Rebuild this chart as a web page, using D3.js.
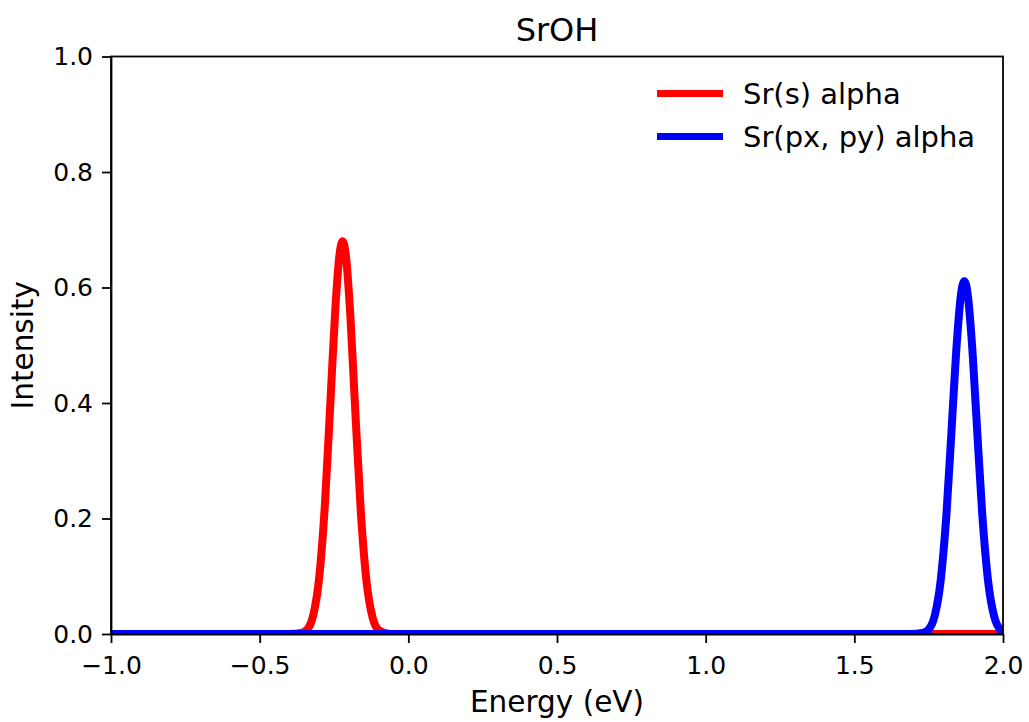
<!DOCTYPE html>
<html>
<head>
<meta charset="utf-8">
<style>
    body { margin: 0; background: #fff; }
    svg text { font-family: "DejaVu Sans", sans-serif; fill: #000; }
    .axis path, .axis line { stroke: #000; stroke-width: 1.8px; }
    .line { fill: none; stroke-width: 8px; stroke-linejoin: round; }
</style>
</head>
<body>
<div id="chart"></div>
<script src="https://cdn.jsdelivr.net/npm/d3@7"></script>
<script>
    // values
    const sEnergy = [-1.0, -0.40, -0.36, -0.34, -0.32, -0.30, -0.28, -0.26, -0.245, -0.23, -0.221,
                     -0.21, -0.195, -0.18, -0.16, -0.14, -0.12, -0.10, -0.06, 2.0];
    const sIntensity = [0, 0, 0.002, 0.008, 0.032, 0.097, 0.229, 0.423, 0.568, 0.663, 0.680,
                        0.655, 0.551, 0.402, 0.213, 0.088, 0.028, 0.007, 0, 0];

    const pEnergy = [-1.0, 1.69, 1.73, 1.75, 1.77, 1.79, 1.81, 1.83, 1.845, 1.86, 1.870,
                     1.88, 1.895, 1.91, 1.93, 1.95, 1.97, 1.99, 2.0];
    const pIntensity = [0, 0, 0.002, 0.008, 0.031, 0.091, 0.209, 0.380, 0.507, 0.593, 0.611,
                        0.593, 0.507, 0.380, 0.209, 0.091, 0.031, 0.008, 0.004];

    const seriesNames = ["Sr(s) alpha", "Sr(px, py) alpha"];
    const seriesColors = ["#ff0000", "#0000ff"];
    const xTicks = [-1.0, -0.5, 0.0, 0.5, 1.0, 1.5, 2.0];
    const yTicks = [0.0, 0.2, 0.4, 0.6, 0.8, 1.0];

    const W = 1029, H = 722;
    const margin = { top: 56.5, right: 26, bottom: 88, left: 111 };
    const width = W - margin.left - margin.right;
    const height = H - margin.top - margin.bottom;

    const svg = d3.select("#chart").append("svg")
        .attr("width", W).attr("height", H);

    const g = svg.append("g")
        .attr("transform", "translate(" + margin.left + "," + margin.top + ")");

    const x = d3.scaleLinear().domain([-1, 2]).range([0, width]);
    const y = d3.scaleLinear().domain([0, 1]).range([height, 0]);

    svg.append("defs").append("clipPath").attr("id", "clip")
        .append("rect").attr("width", width).attr("height", height);

    const series = [
        { name: seriesNames[0], color: seriesColors[0], values: sEnergy.map((e, i) => [e, sIntensity[i]]) },
        { name: seriesNames[1], color: seriesColors[1], values: pEnergy.map((e, i) => [e, pIntensity[i]]) }
    ];

    const line = d3.line()
        .curve(d3.curveMonotoneX)
        .x(d => x(d[0]))
        .y(d => y(d[1]));

    g.append("g").attr("clip-path", "url(#clip)")
        .selectAll(".line")
        .data(series)
        .enter().append("path")
        .attr("class", "line")
        .attr("d", d => line(d.values))
        .style("stroke", d => d.color);

    // axes
    const fmt = d3.format(".1f");
    const minus = v => fmt(v).replace("-", "\u2212");

    const xAxis = g.append("g")
        .attr("class", "axis")
        .attr("transform", "translate(0," + height + ")")
        .call(d3.axisBottom(x).tickValues(xTicks).tickFormat(minus).tickSize(9).tickPadding(13).tickSizeOuter(0));
    xAxis.selectAll("text").style("font-size", "25px");

    const yAxis = g.append("g")
        .attr("class", "axis")
        .call(d3.axisLeft(y).tickValues(yTicks).tickFormat(fmt).tickSize(9).tickPadding(9).tickSizeOuter(0));
    yAxis.selectAll("text").style("font-size", "25px");

    // frame
    g.append("rect")
        .attr("width", width).attr("height", height)
        .attr("fill", "none").attr("stroke", "#000").attr("stroke-width", 1.8);

    // labels
    svg.append("text")
        .attr("x", margin.left + width / 2).attr("y", 41)
        .attr("text-anchor", "middle")
        .style("font-size", "32px")
        .text("SrOH");

    svg.append("text")
        .attr("x", margin.left + width / 2).attr("y", 712)
        .attr("text-anchor", "middle")
        .style("font-size", "29.5px")
        .text("Energy (eV)");

    svg.append("text")
        .attr("transform", "translate(33," + (margin.top + height / 2) + ") rotate(-90)")
        .attr("text-anchor", "middle")
        .style("font-size", "29.5px")
        .text("Intensity");

    // legend
    const legend = svg.append("g").selectAll(".leg")
        .data(series)
        .enter().append("g")
        .attr("transform", (d, i) => "translate(657," + (93.5 + i * 43) + ")");

    legend.append("line")
        .attr("x1", 0).attr("x2", 66)
        .attr("stroke", d => d.color).attr("stroke-width", 7);

    legend.append("text")
        .attr("x", 86).attr("dy", "0.35em")
        .style("font-size", "29px")
        .text(d => d.name);
</script>
</body>
</html>
